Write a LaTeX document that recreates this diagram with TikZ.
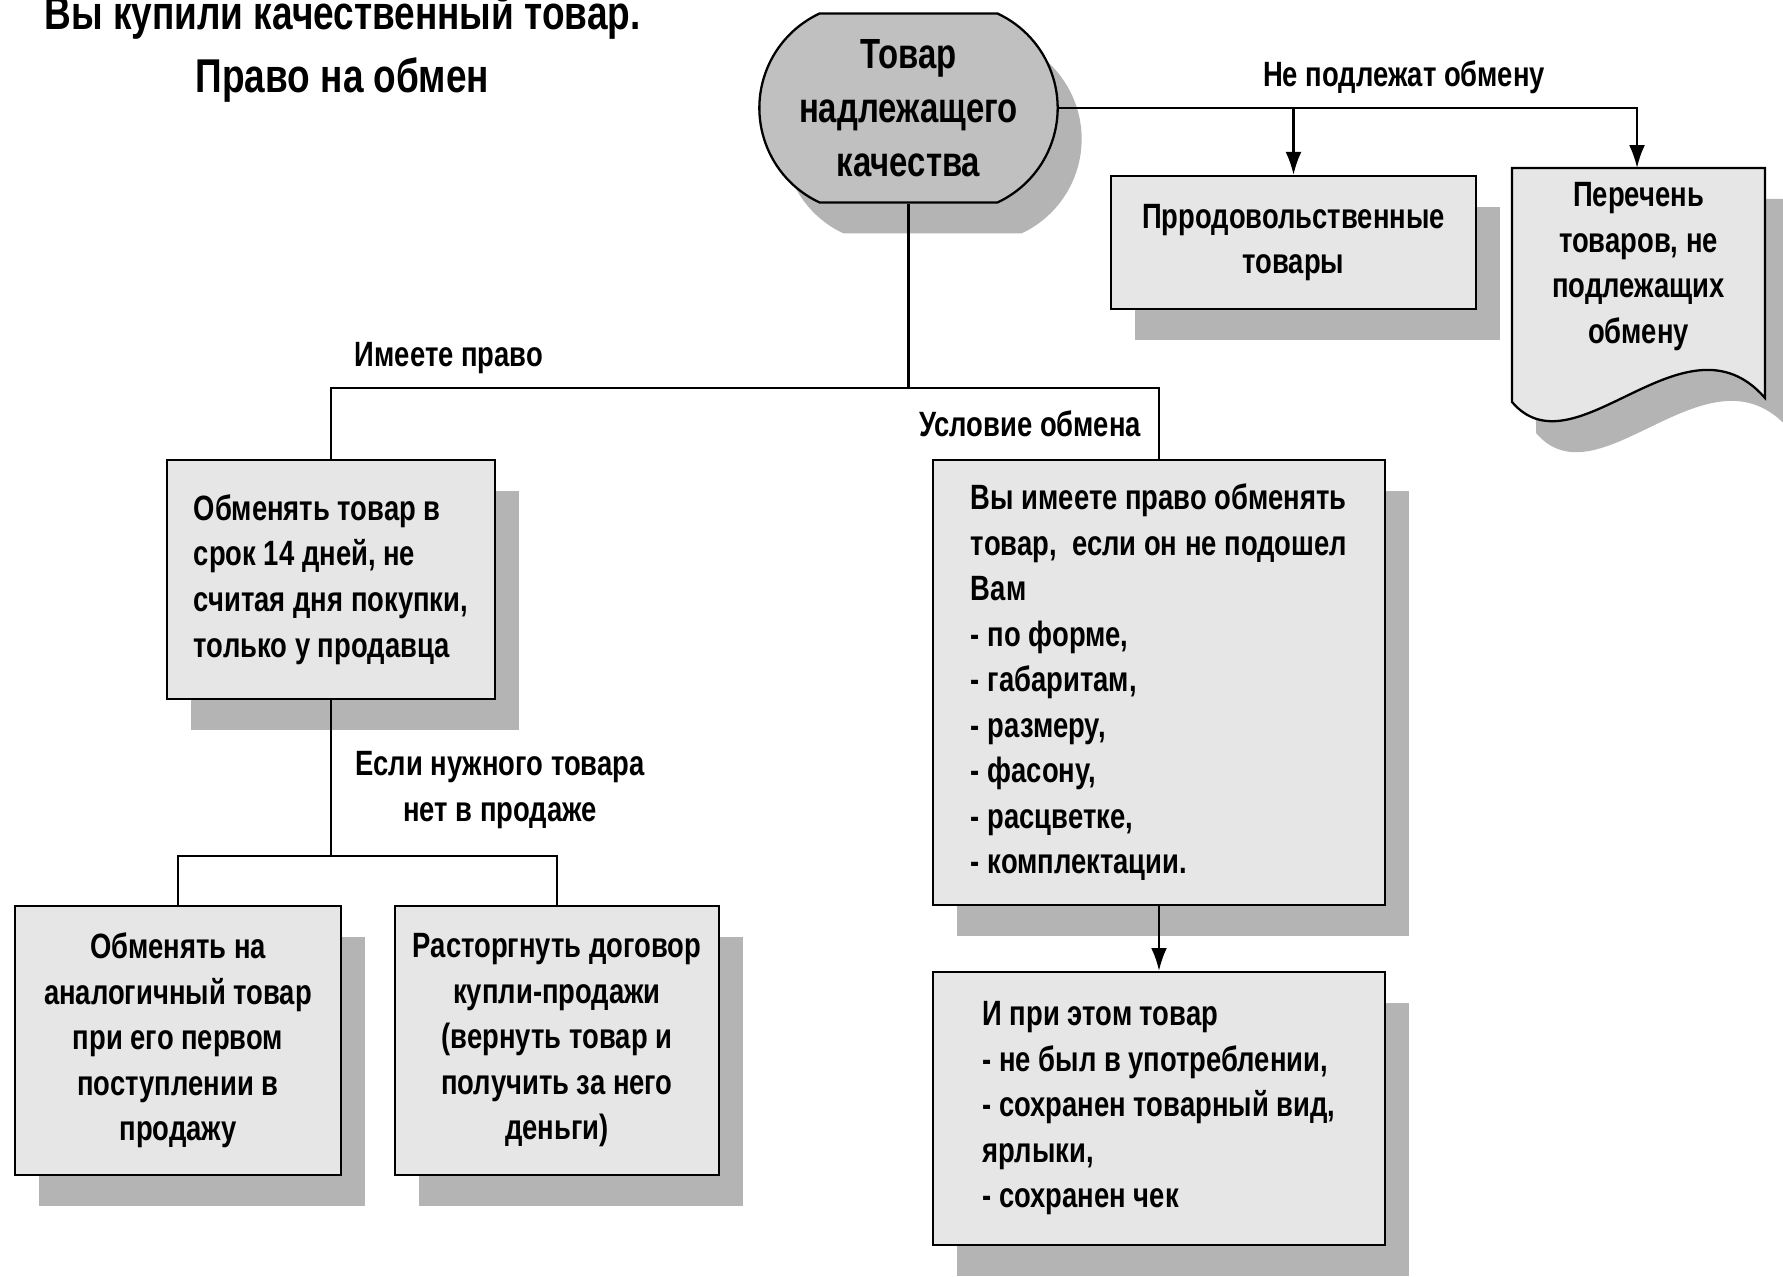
\documentclass[tikz,border=0pt]{standalone}
\usepackage{fontspec}
\setmainfont{Liberation Sans}[FakeStretch=0.78]
\usepackage{tikz}
\usetikzlibrary{shapes.misc,shadows,arrows.meta}

\definecolor{boxgray}{HTML}{E6E6E6}
\definecolor{ovalgray}{HTML}{C0C0C0}
\definecolor{shadowgray}{HTML}{B4B4B4}

\begin{document}
\begin{tikzpicture}[
    line width=1.3pt,
    every node/.style={font=\bfseries\fontsize{20}{25.9}\selectfont},
    shade/.style={drop shadow={shadow xshift=0.48cm, shadow yshift=-0.62cm, fill=shadowgray, opacity=1}},
    box/.style={draw, fill=boxgray, shade, inner sep=0pt},
    lbox/.style={box, align=left},
    cbox/.style={box, align=center},
    lab/.style={align=center},
    arr/.style={-{Latex[length=13pt,width=9pt]}}
  ]
  \useasboundingbox (0,0) rectangle (35.66,25.52);

  % title
  \node[font=\bfseries\fontsize{27}{36}\selectfont, align=center] (title) at (6.85,24.55)
    {Вы купили качественный товар.\\Право на обмен};

  % top of the tree
  \node[draw, fill=ovalgray, shade, rounded rectangle, rounded rectangle arc length=130,
        minimum width=6.2cm, minimum height=3.78cm, align=center,
        font=\bfseries\fontsize{24}{30.7}\selectfont] (tovar) at (18.17,23.36)
    {Товар\\надлежащего\\качества};

  % not for exchange
  \node[cbox, minimum width=7.3cm, minimum height=2.66cm] (prod) at (25.87,20.67)
    {Прродовольственные\\товары};
  \fill[shadowgray, shift={(0.48,-0.62)}] (30.24,22.16) -- (35.30,22.16) -- (35.30,17.56)
    .. controls (33.7,19.4) and (31.5,16.0) .. (30.24,17.48) -- cycle;
  \filldraw[fill=boxgray] (30.24,22.16) -- (35.30,22.16) -- (35.30,17.56)
    .. controls (33.7,19.4) and (31.5,16.0) .. (30.24,17.48) -- cycle;
  \node[lab] (per) at (32.77,20.19) {Перечень\\товаров, не\\подлежащих\\обмену};
  \coordinate (perTop) at (32.74,22.16);

  \node (nepod) at (28.08,23.98) {Не подлежат обмену};
  \draw[arr] (tovar.east) -| (perTop);
  \draw[arr] (tovar.east -| prod.north) -- (prod.north);

  % right to exchange
  \coordinate (split) at (18.17,17.76);
  \node[lbox, minimum width=6.56cm, minimum height=4.78cm] (srok) at (6.62,13.93)
    {Обменять товар в\\срок 14 дней, не\\считая дня покупки,\\только у продавца};
  \node[lbox, minimum width=9.04cm, minimum height=8.9cm] (uslov) at (23.18,11.87)
    {Вы имеете право обменять\\товар,~~если он не подошел\\Вам\\- по форме,\\- габаритам,\\- размеру,\\- фасону,\\- расцветке,\\- комплектации.};
  \draw (tovar.south) -- (split);
  \draw (split) -| (srok.north);
  \draw (split) -| (uslov.north);
  \node (imeete) at (8.98,18.36) {Имеете право};
  \node (uslobm) at (20.6,17.04) {Условие обмена};

  % no goods on sale
  \coordinate (split2) at (6.62,8.4);
  \node[cbox, minimum width=6.52cm, minimum height=5.38cm] (analog) at (3.56,4.71)
    {Обменять на\\аналогичный товар\\при его первом\\поступлении в\\продажу};
  \node[cbox, minimum width=6.48cm, minimum height=5.38cm] (rastorg) at (11.14,4.71)
    {Расторгнуть договор\\купли-продажи\\(вернуть товар и\\получить за него\\деньги)};
  \draw (srok.south) -- (split2);
  \draw (split2) -| (analog.north);
  \draw (split2) -| (rastorg.north);
  \node[lab] (esli) at (10.0,9.72) {Если нужного товара\\нет в продаже};

  % condition
  \node[lbox, minimum width=9.04cm, minimum height=5.46cm] (cond) at (23.18,3.35)
    {И при этом товар\\- не был в употреблении,\\- сохранен товарный вид,\\ярлыки,\\- сохранен чек};
  \draw[arr] (uslov.south) -- (cond.north);
\end{tikzpicture}
\end{document}
